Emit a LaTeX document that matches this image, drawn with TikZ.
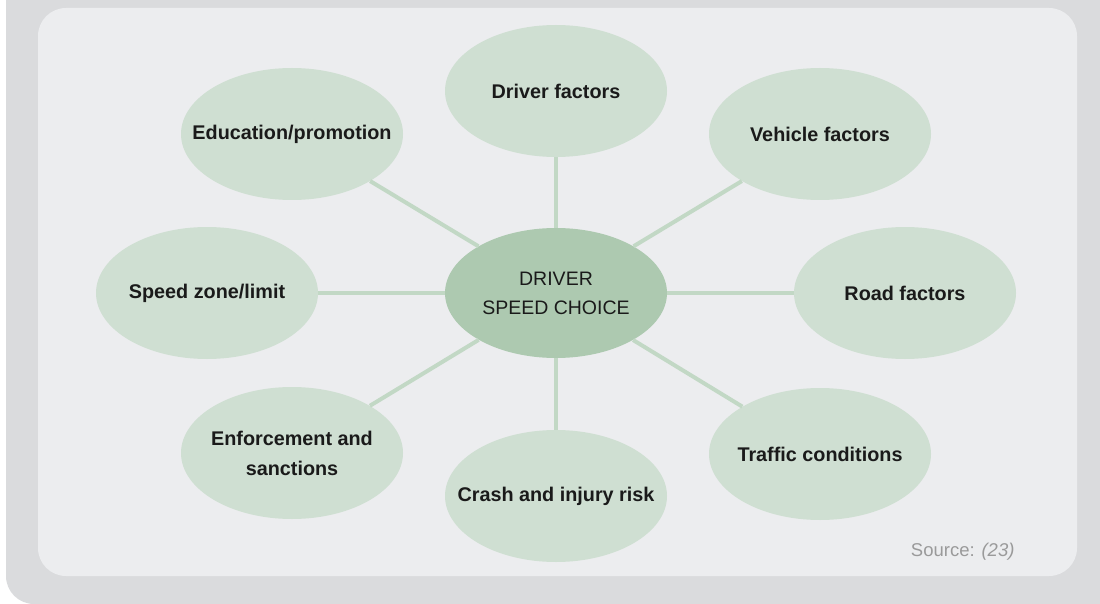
\documentclass[tikz,border=0pt]{standalone}
\usepackage{fontspec}
\setmainfont{Liberation Sans}
\usetikzlibrary{shapes.geometric}
\definecolor{outerbg}{HTML}{DADBDD}
\definecolor{innerbg}{HTML}{ECEDEF}
\definecolor{leaf}{HTML}{CFDFD2}
\definecolor{hub}{HTML}{ADC9B0}
\definecolor{spoke}{HTML}{C2D8C5}
\definecolor{ink}{HTML}{1A1A1A}
\definecolor{srcgray}{HTML}{9A9A9A}
\tikzset{
  blob/.style={ellipse, fill=leaf, draw=none, minimum width=222pt, minimum height=132pt,
    inner xsep=-70pt, inner ysep=0pt, align=center, text=ink,
    font=\fontsize{19.8}{30}\selectfont\bfseries},
  hubblob/.style={blob, fill=hub, minimum height=130pt, font=\fontsize{19.5}{29}\selectfont},
  spokeline/.style={draw=spoke, line width=4pt}
}
\begin{document}
\begin{tikzpicture}[x=1pt,y=-1pt]
\useasboundingbox (0,0) rectangle (1100,604);
\fill[white] (0,0) rectangle (1100,604);
\begin{scope}
\clip (0,0) rectangle (1100,604);
\fill[outerbg, rounded corners=28pt] (6,-40) rectangle (1140,604);
\end{scope}
\fill[innerbg, rounded corners=28pt] (38,8) rectangle (1077,576);

\node[hubblob] (hub) at (556,293) {DRIVER\\SPEED CHOICE};
\node[blob] (drv) at (556,91) {Driver factors};
\node[blob] (edu) at (292,134) {Education/promotion};
\node[blob] (veh) at (820,134) {Vehicle factors};
\node[blob] (spd) at (207,293) {Speed zone/limit};
\node[blob] (road) at (905,293) {Road factors};
\node[blob] (enf) at (292,453) {Enforcement and\\sanctions};
\node[blob] (trf) at (820,454) {Traffic conditions};
\node[blob] (crash) at (556,496) {Crash and injury risk};

\foreach \n in {drv,edu,veh,spd,road,enf,trf,crash}
  \draw[spokeline] (hub) -- (\n);

\node[text=srcgray, font=\fontsize{18.5}{20}\selectfont, anchor=east] (src) at (1018,552) {Source: \textit{(23)}};
\end{tikzpicture}
\end{document}
